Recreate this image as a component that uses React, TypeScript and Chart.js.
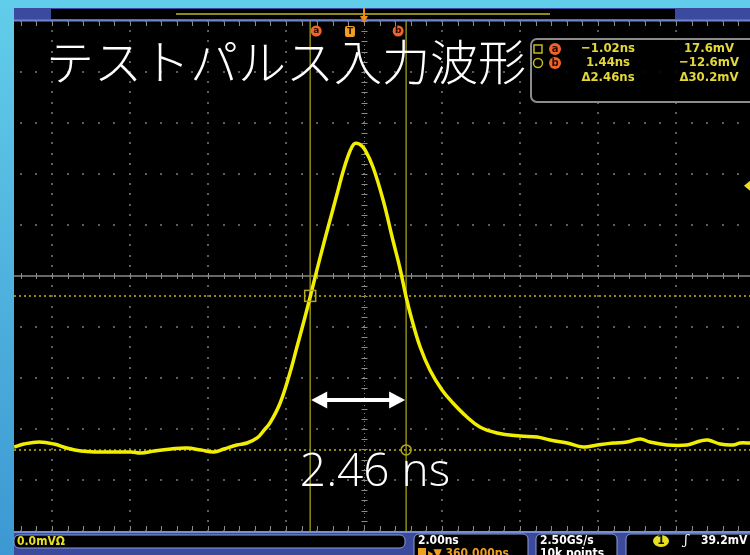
import React, { useEffect, useRef } from "react";
import { Chart, registerables } from "chart.js";
Chart.register(...registerables);

// Waveform samples (time in ns, voltage in mV)
const timeNs = [
  -8.61, -8.36, -7.97, -7.59, -7.26, -6.9, -6.49, -6.05, -5.61, -5.36, -5.02, -4.59, -4.18, -3.82, -3.49, -3.23,
  -2.9, -2.64, -2.38, -2.2, -2.05, -1.79, -1.54, -1.38, -1.2, -1.02, -0.85, -0.64, -0.46, -0.31, -0.18, -0.05,
  0.05, 0.13, 0.26, 0.39, 0.59, 0.85, 1.1, 1.28, 1.44, 1.59, 1.8, 2.05, 2.36, 2.64, 3.0, 3.33, 3.77, 4.36, 4.8,
  5.13, 5.57, 5.98, 6.34, 6.75, 7.1, 7.44, 7.69, 8.13, 8.64, 8.98, 9.18, 9.49, 9.82, 10.0, 10.26,
];
const voltageMv = [
  -12.03, -11.44, -11.05, -11.44, -12.23, -12.81, -13.01, -13.01, -13.01, -13.21, -12.81, -12.42, -12.23, -12.62,
  -13.01, -12.42, -11.64, -11.25, -10.26, -8.7, -7.32, -3.4, 2.48, 6.99, 12.09, 17.38, 22.6, 28.8, 33.9, 38.2,
  41.9, 45.0, 46.8, 47.5, 47.3, 46.2, 42.87, 36.4, 28.56, 23.07, 17.38, 12.87, 7.58, 3.07, -0.85, -3.4,
  -6.15, -8.11, -9.28, -9.87, -10.07, -10.66, -11.25, -12.03, -11.64, -11.25, -11.05, -10.46, -11.05, -11.64,
  -11.64, -10.85, -10.66, -11.44, -11.64, -11.25, -11.25,
];

const titleText = "テストパルス入力波形";
const widthLabel = "2.46 ns";
const cursorTimes = [-1.02, 1.44];
const cursorLevels = [17.6, -12.6];
const cursorNames = ["a", "b"];
const readoutTimes = ["\u22121.02ns", "1.44ns", "\u03942.46ns"];
const readoutLevels = ["17.6mV", "\u221212.6mV", "\u039430.2mV"];
const timePerDiv = 2;
const voltPerDiv = 10;
const centerTime = 0.36;
const centerLevel = 21.5;
const triggerTime = 0;
const triggerLevel = 39.2;
const scaleText = "0.0mV\u03a9";
const timebaseText = "2.00ns";
const delayText = "360.000ps";
const sampleRateText = "2.50GS/s";
const recordText = "10k points";
const triggerText = "39.2mV";

const YELLOW = "#f2ee00";
const DIM = "#8f8a12";
const ORANGE = "#f0642a";

const scopePlugin = {
  id: "scope",
  beforeDraw(chart: any) {
    const { ctx, chartArea: a, scales } = chart;
    const x = scales.x, y = scales.y;
    const W = chart.width, H = chart.height;
    ctx.save();
    const g = ctx.createLinearGradient(0, 0, 0, H);
    g.addColorStop(0, "#62cdea");
    g.addColorStop(1, "#3c98d2");
    ctx.fillStyle = g;
    ctx.fillRect(0, 0, W, H);
    ctx.fillStyle = "#000";
    ctx.fillRect(a.left, 8, a.right - a.left, H - 8);

    const xMajors: number[] = [];
    for (let k = -8; k <= 8; k++) {
      const t = centerTime + k * timePerDiv;
      if (t >= x.min - 1e-6 && t <= x.max + 1e-6) xMajors.push(t);
    }
    const yMajors: number[] = [];
    for (let k = -8; k <= 8; k++) {
      const v = centerLevel + k * voltPerDiv;
      if (v >= y.min - 1e-6 && v <= y.max + 1e-6) yMajors.push(v);
    }
    ctx.fillStyle = "#5c5c5c";
    for (const t of xMajors) {
      if (Math.abs(t - centerTime) < 1e-6) continue;
      const px = Math.round(x.getPixelForValue(t));
      for (let j = -40; j <= 40; j++) {
        const v = centerLevel + (j * voltPerDiv) / 5;
        if (v < y.min || v > y.max) continue;
        const py = Math.round(y.getPixelForValue(v));
        ctx.fillRect(px - 1, py - 1, 2, 2);
      }
    }
    for (const v of yMajors) {
      if (Math.abs(v - centerLevel) < 1e-6) continue;
      const py = Math.round(y.getPixelForValue(v));
      for (let j = -60; j <= 60; j++) {
        const t = centerTime + (j * timePerDiv) / 5;
        if (t < x.min || t > x.max) continue;
        const px = Math.round(x.getPixelForValue(t));
        ctx.fillRect(px - 1, py - 1, 2, 2);
      }
    }
    const cy = Math.round(y.getPixelForValue(centerLevel));
    ctx.strokeStyle = "#8a8a8a";
    ctx.lineWidth = 1.5;
    ctx.beginPath();
    ctx.moveTo(a.left, cy);
    ctx.lineTo(a.right, cy);
    ctx.stroke();
    ctx.lineWidth = 1;
    for (let j = -60; j <= 60; j++) {
      const t = centerTime + (j * timePerDiv) / 5;
      if (t < x.min || t > x.max) continue;
      const px = Math.round(x.getPixelForValue(t)) + 0.5;
      ctx.beginPath();
      ctx.moveTo(px, cy - 3);
      ctx.lineTo(px, cy + 3);
      ctx.stroke();
      ctx.beginPath();
      ctx.moveTo(px, a.top + 1);
      ctx.lineTo(px, a.top + 5);
      ctx.moveTo(px, a.bottom - 5);
      ctx.lineTo(px, a.bottom - 1);
      ctx.stroke();
    }
    const cx = Math.round(x.getPixelForValue(centerTime)) + 0.5;
    ctx.strokeStyle = "#7a7a7a";
    ctx.setLineDash([1, 3]);
    ctx.beginPath();
    ctx.moveTo(cx, a.top);
    ctx.lineTo(cx, a.bottom);
    ctx.stroke();
    ctx.setLineDash([]);
    ctx.strokeStyle = "#8a8a8a";
    for (let j = -40; j <= 40; j++) {
      const v = centerLevel + (j * voltPerDiv) / 5;
      if (v < y.min || v > y.max) continue;
      const py = Math.round(y.getPixelForValue(v)) + 0.5;
      ctx.beginPath();
      ctx.moveTo(cx - 3, py);
      ctx.lineTo(cx + 3, py);
      ctx.stroke();
    }
    ctx.restore();
  },
  beforeDatasetsDraw(chart: any) {
    const { ctx, chartArea: a, scales } = chart;
    const x = scales.x, y = scales.y;
    ctx.save();
    ctx.strokeStyle = DIM;
    ctx.lineWidth = 1.5;
    for (const t of cursorTimes) {
      const px = x.getPixelForValue(t);
      ctx.beginPath();
      ctx.moveTo(px, a.top);
      ctx.lineTo(px, a.bottom);
      ctx.stroke();
    }
    ctx.lineWidth = 2;
    ctx.setLineDash([2, 3]);
    for (const v of cursorLevels) {
      const py = y.getPixelForValue(v);
      ctx.beginPath();
      ctx.moveTo(a.left, py);
      ctx.lineTo(a.right, py);
      ctx.stroke();
    }
    ctx.restore();
  },
  afterDatasetsDraw(chart: any) {
    const { ctx, chartArea: a, scales } = chart;
    const x = scales.x, y = scales.y;
    const H = chart.height;
    ctx.save();
    const ax = x.getPixelForValue(cursorTimes[0]);
    const ay = y.getPixelForValue(cursorLevels[0]);
    const bx = x.getPixelForValue(cursorTimes[1]);
    const by = y.getPixelForValue(cursorLevels[1]);
    ctx.strokeStyle = "#b4aa1c";
    ctx.lineWidth = 1.5;
    ctx.strokeRect(ax - 5.5, ay - 5.5, 11, 11);
    ctx.beginPath();
    ctx.arc(bx, by, 5, 0, Math.PI * 2);
    ctx.stroke();

    // double arrow
    const arrowY = 400;
    ctx.fillStyle = "#ffffff";
    ctx.strokeStyle = "#ffffff";
    ctx.lineWidth = 4;
    ctx.beginPath();
    ctx.moveTo(ax + 12, arrowY);
    ctx.lineTo(bx - 12, arrowY);
    ctx.stroke();
    ctx.beginPath();
    ctx.moveTo(ax + 1, arrowY);
    ctx.lineTo(ax + 17, arrowY - 8.5);
    ctx.lineTo(ax + 17, arrowY + 8.5);
    ctx.closePath();
    ctx.fill();
    ctx.beginPath();
    ctx.moveTo(bx - 1, arrowY);
    ctx.lineTo(bx - 17, arrowY - 8.5);
    ctx.lineTo(bx - 17, arrowY + 8.5);
    ctx.closePath();
    ctx.fill();

    ctx.font = '300 46px "Open Sans", "Noto Sans", sans-serif';
    ctx.textAlign = "center";
    ctx.textBaseline = "alphabetic";
    ctx.fillText(widthLabel, 375, 486);

    ctx.font = '300 48px "Noto Sans CJK JP", sans-serif';
    ctx.textAlign = "left";
    ctx.fillText(titleText, 46, 80);

    const ty = y.getPixelForValue(triggerLevel);
    ctx.fillStyle = "#e8dc20";
    ctx.beginPath();
    ctx.moveTo(a.right - 6, ty);
    ctx.lineTo(a.right, ty - 5);
    ctx.lineTo(a.right, ty + 5);
    ctx.closePath();
    ctx.fill();

    // readout box
    ctx.fillStyle = "rgba(0,0,0,0.9)";
    ctx.strokeStyle = "#8c8c8c";
    ctx.lineWidth = 2;
    ctx.beginPath();
    (ctx as any).roundRect(531, 39, 228, 63, 6);
    ctx.fill();
    ctx.stroke();
    const rows = [49, 63, 78];
    ctx.strokeStyle = "#c4ba1c";
    ctx.lineWidth = 1.5;
    ctx.strokeRect(534, 45, 8, 8);
    ctx.beginPath();
    ctx.arc(538, rows[1], 4.5, 0, Math.PI * 2);
    ctx.stroke();
    for (let i = 0; i < 2; i++) {
      ctx.fillStyle = ORANGE;
      ctx.beginPath();
      ctx.arc(555, rows[i], 6, 0, Math.PI * 2);
      ctx.fill();
      ctx.fillStyle = "#2a0a00";
      ctx.font = 'bold 10px "DejaVu Sans", sans-serif';
      ctx.textAlign = "center";
      ctx.textBaseline = "middle";
      ctx.fillText(cursorNames[i], 555, rows[i]);
    }
    ctx.fillStyle = "#e2d83a";
    ctx.font = 'bold 13px "Liberation Sans Narrow", "DejaVu Sans Condensed", sans-serif';
    ctx.textAlign = "center";
    ctx.textBaseline = "middle";
    for (let i = 0; i < 3; i++) {
      ctx.fillText(readoutTimes[i], 608, rows[i]);
      ctx.fillText(readoutLevels[i], 709, rows[i]);
    }

    // top record bar
    ctx.fillStyle = "#3b4a9e";
    ctx.fillRect(a.left, 8, a.right - a.left, 12);
    ctx.fillStyle = "#000";
    ctx.fillRect(51, 9, 624, 10);
    ctx.fillStyle = "#6d87cf";
    ctx.fillRect(a.left, 19.5, a.right - a.left, 2);
    ctx.strokeStyle = "#8c8a18";
    ctx.lineWidth = 2;
    ctx.beginPath();
    ctx.moveTo(176, 14);
    ctx.lineTo(550, 14);
    ctx.stroke();
    const pinX = x.getPixelForValue(centerTime);
    ctx.strokeStyle = "#f08a1a";
    ctx.lineWidth = 2;
    ctx.beginPath();
    ctx.moveTo(pinX, 8);
    ctx.lineTo(pinX, 17);
    ctx.stroke();
    ctx.fillStyle = "#f08a1a";
    ctx.beginPath();
    ctx.moveTo(pinX - 4, 16);
    ctx.lineTo(pinX + 4, 16);
    ctx.lineTo(pinX, 23);
    ctx.closePath();
    ctx.fill();

    const labelY = 31;
    const labelXs = [ax + 6, bx - 8];
    for (let i = 0; i < 2; i++) {
      ctx.fillStyle = ORANGE;
      ctx.beginPath();
      ctx.arc(labelXs[i], labelY, 5.5, 0, Math.PI * 2);
      ctx.fill();
      ctx.fillStyle = "#2a0a00";
      ctx.font = 'bold 9px "DejaVu Sans", sans-serif';
      ctx.textAlign = "center";
      ctx.textBaseline = "middle";
      ctx.fillText(cursorNames[i], labelXs[i], labelY);
    }
    const tX = x.getPixelForValue(triggerTime);
    ctx.fillStyle = "#f0a020";
    ctx.beginPath();
    (ctx as any).roundRect(tX - 5, labelY - 5, 10, 11, 2);
    ctx.fill();
    ctx.fillStyle = "#2a1000";
    ctx.font = 'bold 9px "DejaVu Sans", sans-serif';
    ctx.fillText("T", tX, labelY + 1);

    // bottom status bar
    ctx.fillStyle = "#3b4a9c";
    ctx.fillRect(a.left, a.bottom, a.right - a.left, H - a.bottom);
    ctx.fillStyle = "#7590d8";
    ctx.fillRect(a.left, a.bottom, a.right - a.left, 2);
    const box = (x0: number, w: number, y0: number, h: number) => {
      ctx.fillStyle = "#000";
      ctx.strokeStyle = "#8aa0d8";
      ctx.lineWidth = 1;
      ctx.beginPath();
      (ctx as any).roundRect(x0, y0, w, h, 5);
      ctx.fill();
      ctx.stroke();
    };
    box(14, 391, 535, 13);
    box(414, 114, 534, 30);
    box(536, 81, 534, 30);
    box(626, 140, 534, 30);
    ctx.textAlign = "left";
    ctx.textBaseline = "middle";
    ctx.font = 'bold 12px "Liberation Sans Narrow", "DejaVu Sans Condensed", sans-serif';
    ctx.fillStyle = "#e8e020";
    ctx.fillText(scaleText, 17, 541.5);
    ctx.fillStyle = "#ffffff";
    ctx.fillText(timebaseText, 418, 541);
    ctx.fillText(sampleRateText, 540, 541);
    ctx.fillText(recordText, 540, 554);
    ctx.fillText(triggerText, 701, 541);
    ctx.fillStyle = "#f0a020";
    ctx.fillRect(418, 548, 8, 9);
    ctx.fillText("\u25b8\u25bc " + delayText, 428, 554);
    ctx.fillStyle = "#e8e020";
    ctx.beginPath();
    ctx.ellipse(661, 541, 8, 6, 0, 0, Math.PI * 2);
    ctx.fill();
    ctx.fillStyle = "#111";
    ctx.textAlign = "center";
    ctx.fillText("1", 661, 541);
    ctx.fillStyle = "#ffffff";
    ctx.font = 'italic 13px "DejaVu Serif", serif';
    ctx.fillText("\u0283", 686, 541);
    ctx.restore();
  },
};

export default function App() {
  const ref = useRef<HTMLCanvasElement | null>(null);
  useEffect(() => {
    document.body.style.margin = "0";
    const canvas = ref.current;
    if (!canvas) return;
    const points = timeNs.map((t, i) => ({ x: t, y: voltageMv[i] }));
    const chart = new Chart(canvas, {
      type: "line",
      data: {
        datasets: [
          {
            data: points,
            borderColor: YELLOW,
            borderWidth: 3.5,
            pointRadius: 0,
            tension: 0.4,
            fill: false,
          },
        ],
      },
      options: {
        animation: false,
        responsive: false,
        devicePixelRatio: 1,
        layout: { padding: { left: 14, top: 21, right: 0, bottom: 24 } },
        plugins: { legend: { display: false }, tooltip: { enabled: false } },
        scales: {
          x: { type: "linear", min: -8.614, max: 10.257, display: false },
          y: { type: "linear", min: centerLevel - 5 * voltPerDiv, max: centerLevel + 5 * voltPerDiv, display: false },
        },
      },
      plugins: [scopePlugin],
    });
    return () => chart.destroy();
  }, []);
  return (
    <div style={{ position: "fixed", left: 0, top: 0, width: 750, height: 555 }}>
      <canvas ref={ref} width={750} height={555} style={{ width: 750, height: 555, display: "block" }} />
    </div>
  );
}
